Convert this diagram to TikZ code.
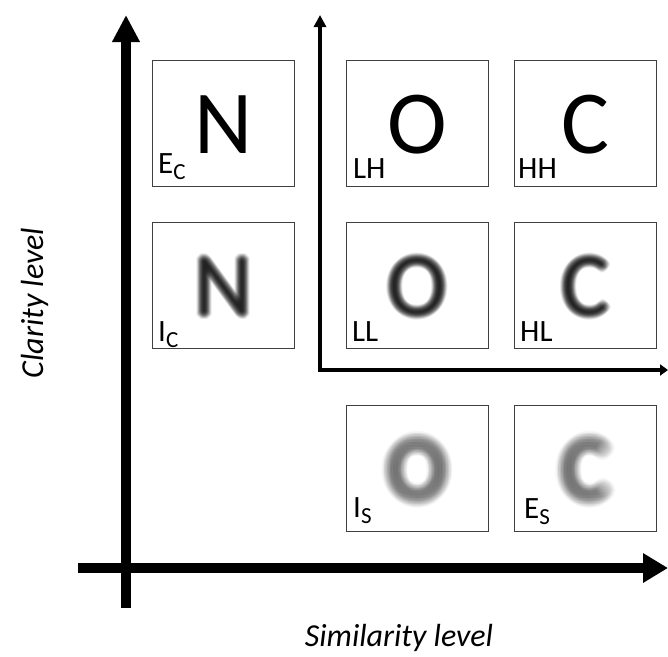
\documentclass[tikz,border=0pt]{standalone}
\usepackage{fontspec}
\setmainfont{Carlito}
\usetikzlibrary{arrows.meta,calc}
\tikzset{
  imgbox/.style={draw=black!75, line width=1.2pt, minimum width=142pt, minimum height=126pt, inner sep=0pt, anchor=north west},
  bigletter/.style={font=\fontsize{90}{90}\selectfont, inner sep=0pt, anchor=base},
  lab/.style={font=\fontsize{31}{31}\selectfont, inner sep=0pt, anchor=base west},
  axislab/.style={font=\fontsize{32}{32}\selectfont\itshape, inner sep=0pt, anchor=base},
  bigaxis/.style={line width=9.5pt, line cap=butt},
  thinaxis/.style={line width=3.6pt, line join=miter, line cap=butt}
}
\newcommand\sublab[2]{#1\raisebox{-6pt}{\fontsize{23}{23}\selectfont #2}}
% #1 name prefix, #2 box name, #3 letter, #4 step, #5 opacity, #6 half count
\newcommand\blurletter[6]{%
  \foreach \i in {-#6,...,#6}{\foreach \j in {-#6,...,#6}{
    \pgfmathtruncatemacro\rr{\i*\i+\j*\j}
    \ifnum\rr>\numexpr#6*#6+1\relax\else
    \node[bigletter, text opacity=#5] (#1x\i y\j) at ($(#2.center)+(\i*#4,30+\j*#4)$) {#3};
    \fi
  }}}
\begin{document}
\begin{tikzpicture}[x=1pt,y=-1pt]
\useasboundingbox (0,0) rectangle (668,656);
% axes
\coordinate (ybot) at (126,608);
\coordinate (ytop) at (126,15);
\coordinate (xleft) at (78,568);
\coordinate (xright) at (668,568);
\coordinate (ttop) at (320,15);
\coordinate (tcorner) at (320,370);
\coordinate (tright) at (668,370);
\draw[bigaxis, -{Triangle[length=27pt,width=26pt]}] (ybot) -- (ytop);
\draw[bigaxis, -{Triangle[length=25pt,width=28pt]}] (xleft) -- (xright);
\draw[thinaxis, {Triangle[length=12pt,width=12pt]}-{Triangle[length=8pt,width=11pt]}] (ttop) -- (tcorner) -- (tright);
% boxes
\node[imgbox] (ec) at (152,60) {};
\node[imgbox] (ic) at (152,222) {};
\node[imgbox] (lh) at (346,60) {};
\node[imgbox] (hh) at (514,60) {};
\node[imgbox] (ll) at (346,222) {};
\node[imgbox] (hl) at (514,222) {};
\node[imgbox] (is) at (346,405) {};
\node[imgbox] (es) at (514,405) {};
% sharp letters
\node[bigletter] (ecl) at ($(ec.center)+(0,30)$) {N};
\node[bigletter] (lhl) at ($(lh.center)+(0,30)$) {O};
\node[bigletter] (hhl) at ($(hh.center)+(0,30)$) {C};
% blurred letters
\blurletter{icb}{ic}{N}{1}{0.036}{4}
\blurletter{llb}{ll}{O}{1}{0.036}{4}
\blurletter{hlb}{hl}{C}{1}{0.036}{4}
\blurletter{isb}{is}{O}{1.5}{0.012}{6}
\blurletter{esb}{es}{C}{1.5}{0.012}{6}
% labels
\node[lab] (ect) at (158,173) {\sublab{E}{C}};
\node[lab] (ict) at (158,341) {\sublab{I}{C}};
\node[lab] (lht) at (353,178) {LH};
\node[lab] (hht) at (518,178) {HH};
\node[lab] (llt) at (352,341) {LL};
\node[lab] (hlt) at (520,341) {HL};
\node[lab] (ist) at (353,517) {\sublab{I}{S}};
\node[lab] (est) at (524,518) {\sublab{E}{S}};
% axis labels
\node[axislab] (simlab) at (399,646) {Similarity level};
\node[axislab, rotate=90] (clarlab) at (43,303) {Clarity level};
\end{tikzpicture}
\end{document}
